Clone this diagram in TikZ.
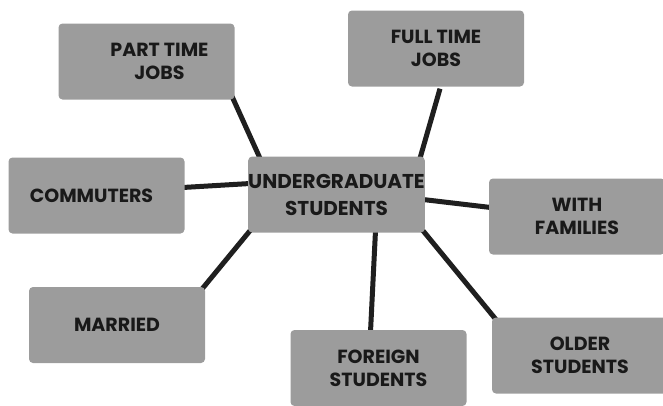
\documentclass[tikz,border=0pt]{standalone}
\usepackage{fontspec}
\setmainfont{Poppins}
\usetikzlibrary{backgrounds}
\tikzset{
  topic/.style={fill=boxgray, rounded corners=4pt, minimum width=176pt, minimum height=76pt,
    align=center, font=\fontsize{19}{23}\selectfont\bfseries, text=black!90, inner sep=0pt},
  hub/.style={topic, font=\fontsize{20}{27}\selectfont\bfseries},
  spoke/.style={line width=5pt, draw=black!88}
}
\definecolor{boxgray}{HTML}{9C9C9C}
\begin{document}
\begin{tikzpicture}[x=1pt,y=-1pt]
\useasboundingbox (0,0) rectangle (663,405);
%hub and topics
\node [hub] (students) at (336.5,194.5) {UNDERGRADUATE\\STUDENTS};
\node [topic] (parttime) at (146.5,61.5) {\hspace*{26pt}PART TIME\\\hspace*{26pt}JOBS};
\node [topic] (fulltime) at (436,48.5) {FULL TIME\\JOBS};
\node [topic] (commuters) at (96.5,195.5) {COMMUTERS\hspace*{10pt}};
\node [topic] (families) at (577,216.5) {WITH\\FAMILIES};
\node [topic] (married) at (117,325) {MARRIED};
\node [topic] (foreign) at (378.5,368) {FOREIGN\\STUDENTS};
\node [topic] (older) at (580,355.5) {OLDER\\STUDENTS};
%spokes
\begin{scope}[on background layer]
\draw [spoke] ([xshift=-3pt,yshift=4pt]parttime.south east) -- ([xshift=12pt,yshift=-2pt]students.north west);
\draw [spoke] ([xshift=4pt,yshift=-2pt]fulltime.south) -- ([xshift=-5pt,yshift=-2pt]students.north east);
\draw [spoke] ([xshift=-2pt,yshift=8pt]commuters.east) -- ([xshift=2pt,yshift=11pt]students.west);
\draw [spoke] ([xshift=-2pt,yshift=-5pt]students.east) -- ([xshift=2pt,yshift=9pt]families.west);
\draw [spoke] ([xshift=2pt,yshift=2pt]students.south west) -- ([xshift=-3pt,yshift=-2pt]married.north east);
\draw [spoke] ([xshift=39pt,yshift=2pt]students.south) -- ([xshift=-8pt,yshift=-2pt]foreign.north);
\draw [spoke] ([xshift=-2pt,yshift=2pt]students.south east) -- ([xshift=4pt,yshift=-2pt]older.north west);
\end{scope}
\end{tikzpicture}
\end{document}
